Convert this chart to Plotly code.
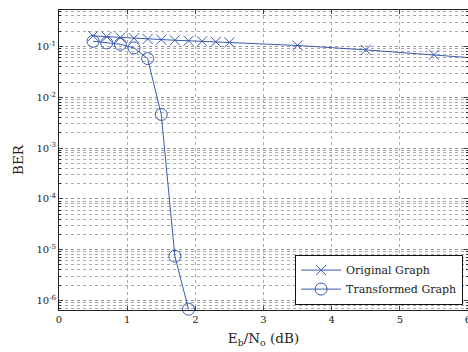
import plotly.graph_objects as go

# Data
orig_x = [0.5, 0.7, 0.9, 1.1, 1.3, 1.5, 1.7, 1.9, 2.1, 2.3, 2.5, 3.5, 4.5, 5.5, 6.5]
orig_ber = [0.162, 0.156, 0.151, 0.146, 0.141, 0.137, 0.133, 0.130, 0.127, 0.124, 0.121, 0.105, 0.086, 0.069, 0.054]

trans_x = [0.5, 0.7, 0.9, 1.1, 1.3, 1.5, 1.7, 1.9]
trans_ber = [0.127, 0.118, 0.111, 0.094, 0.058, 0.0046, 7.4e-6, 6.7e-7]

x_ticks = [0, 1, 2, 3, 4, 5, 6]
y_ticks = [1e-6, 1e-5, 1e-4, 1e-3, 1e-2, 1e-1]
y_ticktext = ["10<sup>-6</sup>", "10<sup>-5</sup>", "10<sup>-4</sup>",
              "10<sup>-3</sup>", "10<sup>-2</sup>", "10<sup>-1</sup>"]
minor_vals = [m * 10 ** k for k in range(-7, 1) for m in range(2, 10)]

color = "#3B5BB0"
font = "DejaVu Serif"

fig = go.Figure()
fig.add_trace(go.Scatter(
    x=orig_x, y=orig_ber, mode="lines+markers", name="Original Graph",
    line=dict(color=color, width=1),
    marker=dict(symbol="x-thin-open", size=10, color=color, line=dict(color=color, width=1)),
    cliponaxis=True,
))
fig.add_trace(go.Scatter(
    x=trans_x, y=trans_ber, mode="lines+markers", name="Transformed Graph",
    line=dict(color=color, width=1),
    marker=dict(symbol="circle-open", size=12, color=color, line=dict(color=color, width=1)),
    cliponaxis=False,
))

fig.update_layout(
    width=468, height=352,
    margin=dict(l=59, r=0, t=10, b=42, autoexpand=False),
    paper_bgcolor="white", plot_bgcolor="white",
    font=dict(family=font, size=10, color="#222"),
    showlegend=True,
    legend=dict(
        x=0.988, y=0.018, xanchor="right", yanchor="bottom",
        bgcolor="white", bordercolor="#111", borderwidth=1,
        font=dict(family=font, size=11, color="#222"),
        tracegroupgap=0, itemwidth=40,
    ),
)

fig.update_xaxes(
    range=[0, 6], tickvals=x_ticks, ticks="inside", ticklen=4,
    showline=True, linecolor="#222", linewidth=1, mirror="ticks",
    showgrid=True, gridcolor="#aaa", griddash="dot", gridwidth=1,
    zeroline=False, automargin=False, ticklabeloverflow="allow",
    tickfont=dict(family=font, size=10),
    title=dict(text="E<sub>b</sub>/N<sub>o</sub> (dB)", font=dict(family=font, size=13.5), standoff=9),
)
fig.update_yaxes(
    type="log", range=[-6.19, -0.28],
    tickvals=y_ticks, ticktext=y_ticktext,
    ticks="inside", ticklen=4,
    showline=True, linecolor="#222", linewidth=1, mirror="ticks",
    showgrid=True, gridcolor="#999", griddash="dot", gridwidth=1,
    zeroline=False, automargin=False,
    minor=dict(tickvals=minor_vals, ticks="inside", ticklen=2, tickcolor="#222",
               showgrid=True, gridcolor="#aaa", griddash="dot", gridwidth=1),
    tickfont=dict(family=font, size=10),
    title=dict(text="BER", font=dict(family=font, size=13.5), standoff=9),
)

fig.write_html(
    "out.html",
    config={"displayModeBar": False},
    post_script="document.body.style.margin='0';document.body.style.overflow='hidden';",
)
